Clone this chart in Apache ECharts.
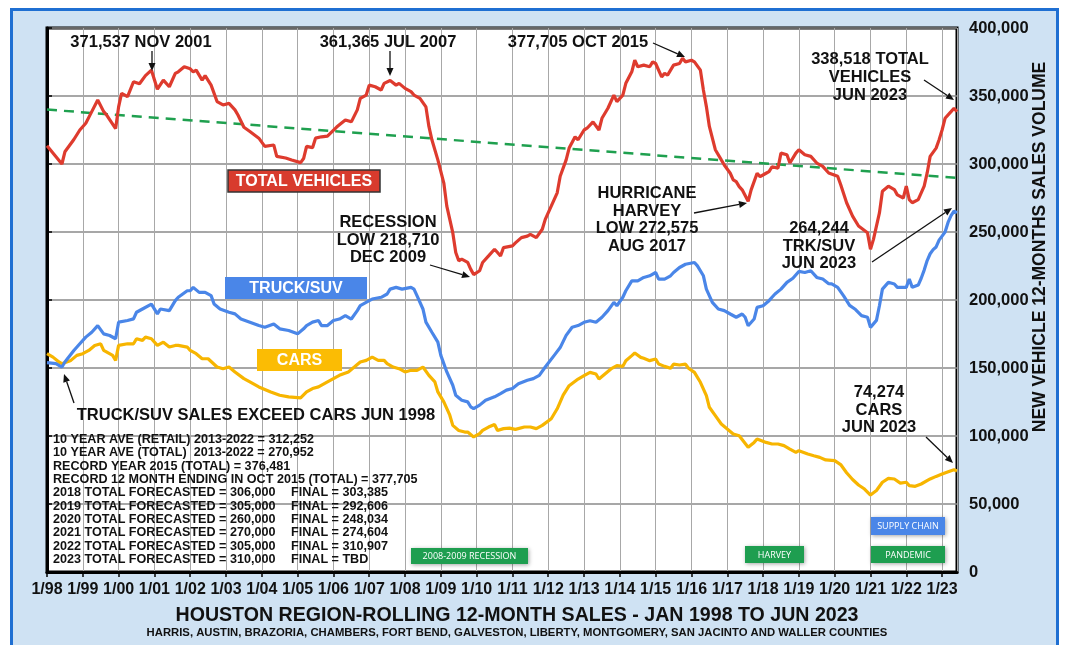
<!DOCTYPE html>
<html><head><meta charset="utf-8">
<script src="https://cdn.jsdelivr.net/npm/echarts/dist/echarts.min.js"></script>
<style>
html,body{margin:0;padding:0;background:#fff;overflow:hidden;}
#bg{position:absolute;left:10px;top:8px;width:1049px;height:660px;background:#cfe2f3;border:3px solid #1f6fd2;box-sizing:border-box;}
#chart{position:absolute;left:0;top:0;width:1065px;height:645px;}
</style></head>
<body><div id="bg"></div><div id="chart"></div>
<script>
// month index: 0 = Jan 1998 ... 305 = Jun 2023
const totalVehicles = [[0,313400],[5,300000],[6,309000],[9,318000],[11,325000],[13,330000],[15,338500],[17,347000],[19,338500],[20,336000],[23,326000],[24,342000],[25,352000],[27,349500],[29,360500],[31,359000],[33,365000],[35,369000],[37,355000],[39,361700],[41,356800],[43,366600],[44,367800],[46,371537],[48,370000],[49,367800],[50,369000],[52,361700],[53,365000],[55,358000],[57,345900],[59,343400],[61,344600],[63,339800],[64,336000],[66,327000],[68,323900],[71,319000],[73,313000],[76,314000],[77,305600],[80,304400],[82,303000],[85,301000],[86,304000],[87,313000],[89,312000],[90,319000],[92,320000],[94,320500],[97,327000],[98,328800],[100,332400],[102,331000],[104,339800],[105,348300],[107,350700],[108,358000],[110,356800],[112,354400],[113,359300],[115,361365],[117,358000],[118,359300],[120,355600],[122,353200],[123,350700],[125,348300],[127,342000],[128,327600],[129,317800],[131,303000],[133,286000],[134,269000],[136,249500],[137,234900],[138,228800],[139,230000],[141,227600],[142,222700],[143,218710],[145,221500],[146,227600],[148,232400],[150,237300],[151,234900],[152,232400],[153,238500],[156,239800],[157,242000],[159,245900],[161,247000],[162,248300],[164,245900],[166,252000],[167,259300],[169,269000],[171,278800],[172,291000],[174,303000],[175,311700],[177,320000],[178,317800],[180,325000],[181,326300],[183,331000],[185,325000],[186,333600],[188,341000],[190,350700],[191,345900],[193,350700],[194,359300],[196,367800],[197,376300],[198,371500],[200,372700],[202,371500],[203,375100],[204,373900],[206,364100],[207,366600],[208,365400],[210,372700],[212,373900],[213,377705],[214,375100],[216,376300],[217,375100],[219,369000],[220,354400],[221,342200],[222,327600],[224,310500],[226,303000],[227,299300],[229,293200],[230,288300],[231,287000],[232,283400],[233,281000],[235,272575],[236,281000],[238,293200],[239,290700],[241,293200],[242,294400],[243,298000],[245,297000],[246,308000],[248,306800],[249,300700],[251,308000],[252,310500],[254,306800],[256,305600],[258,300700],[260,298300],[262,293400],[265,291000],[266,284900],[268,271500],[270,261700],[272,254400],[275,249500],[276,237300],[277,244600],[279,264000],[280,280000],[282,283700],[284,281200],[285,277300],[287,275000],[288,283700],[289,273800],[290,271500],[292,273800],[294,283700],[295,293400],[296,305600],[298,311700],[299,317800],[300,325000],[301,333600],[303,338500],[304,341000],[305,338518]];

const truckSuv = [[0,153900],[3,153200],[5,150700],[6,154400],[9,162900],[11,167800],[13,172700],[15,176300],[17,181200],[19,175100],[21,173900],[23,171500],[24,183700],[27,184900],[29,186100],[30,191000],[32,193400],[35,197000],[37,189800],[38,193400],[41,192200],[43,199500],[44,202000],[47,206800],[48,206800],[49,209300],[51,205600],[53,205600],[55,203200],[56,197000],[58,193400],[61,191000],[63,189800],[65,186000],[68,183700],[71,181200],[73,180000],[76,182400],[78,178800],[81,177600],[84,175100],[86,178800],[87,181200],[89,183700],[91,184900],[92,181200],[94,181200],[96,184900],[98,186000],[100,188500],[102,186000],[104,192200],[105,195900],[108,199500],[109,200700],[112,202000],[114,204400],[115,208000],[117,209300],[119,208000],[122,209300],[123,208000],[124,203200],[126,193400],[127,183700],[129,176300],[131,169000],[132,159300],[134,147100],[136,137300],[137,130000],[139,126300],[141,125100],[142,121500],[143,120200],[145,122700],[147,126300],[150,128800],[152,131200],[154,133700],[156,134900],[158,138500],[161,141000],[163,142200],[165,144600],[167,150700],[170,159300],[172,165000],[174,174000],[176,180000],[178,181200],[180,183600],[182,184800],[184,183600],[186,187300],[188,192200],[190,198300],[191,195800],[193,202000],[194,206800],[196,214100],[198,214100],[200,216600],[202,217800],[204,220200],[205,215400],[207,215400],[209,217800],[210,220200],[212,223900],[214,226300],[217,227600],[218,225100],[220,217800],[221,208000],[223,198300],[225,193400],[227,192200],[229,189700],[231,187300],[233,189700],[234,187300],[235,181100],[237,186000],[238,194600],[240,195800],[242,199500],[243,202000],[244,204400],[246,208000],[248,213000],[250,216000],[252,221000],[254,220200],[256,221500],[258,216600],[260,215400],[262,212000],[263,211800],[265,209300],[267,203000],[269,196000],[271,193000],[273,188500],[275,187300],[276,179900],[278,185000],[279,195800],[280,208000],[282,213000],[284,211800],[285,209300],[288,209300],[289,215400],[290,209300],[292,211000],[293,216000],[294,222000],[295,229000],[296,234000],[297,237000],[298,239000],[299,244000],[300,247000],[301,250000],[302,257000],[303,262000],[304,265400],[305,264244]];

const cars = [[0,160500],[2,158000],[4,154400],[5,153200],[8,155600],[10,159300],[12,160500],[14,162900],[16,166600],[18,167800],[19,162900],[22,159300],[23,155600],[24,166600],[27,167800],[29,167800],[30,171500],[32,170300],[33,172700],[35,171500],[37,166600],[39,169000],[41,165400],[43,166600],[44,166600],[47,165400],[48,162900],[50,160500],[52,156800],[54,156800],[57,150700],[59,149500],[61,150700],[63,147100],[66,142200],[68,139800],[71,136100],[75,132400],[78,130000],[81,128800],[85,128000],[87,132400],[89,134900],[91,136100],[94,139800],[96,142200],[98,144600],[101,147100],[103,150700],[105,154400],[107,155600],[109,158000],[111,155600],[113,155600],[114,153200],[116,150700],[118,149500],[120,147100],[122,148300],[124,148300],[126,150700],[128,144600],[130,139800],[131,132400],[133,125100],[135,115300],[136,107800],[138,104100],[140,102900],[141,102900],[143,99300],[145,101700],[146,104100],[148,106600],[150,108500],[151,104100],[153,105400],[155,105800],[157,104900],[160,106600],[162,106600],[164,105400],[166,107800],[169,112700],[171,120000],[173,130000],[175,137000],[178,141900],[180,144400],[182,146800],[184,145600],[185,141900],[187,145600],[189,149300],[191,151700],[193,151200],[194,155400],[196,159100],[197,161000],[199,157800],[200,157100],[202,155400],[204,156600],[205,152900],[207,151200],[209,149800],[210,152900],[212,152200],[214,152900],[215,149800],[217,146800],[219,139500],[221,129700],[222,121100],[224,115000],[226,108800],[228,105100],[230,101500],[232,100200],[235,91700],[237,95300],[238,97800],[241,95300],[243,94100],[245,94100],[247,92900],[249,90400],[251,88000],[252,89200],[255,86800],[257,85500],[259,84300],[261,82400],[264,81900],[266,79000],[268,73000],[270,68000],[272,64000],[274,61000],[276,56600],[278,59900],[280,66000],[282,68900],[284,68400],[286,65400],[288,66000],[289,63500],[291,63000],[293,64700],[296,68400],[298,70300],[300,72000],[303,74500],[304,75200],[305,74274]];

const trendLine = [[0,340000],[305,289800]];

const notesLeft = ['10 YEAR AVE (RETAIL) 2013-2022 = 312,252','10 YEAR AVE (TOTAL)  2013-2022 = 270,952','RECORD YEAR 2015 (TOTAL) = 376,481','RECORD 12 MONTH ENDING IN OCT 2015 (TOTAL) = 377,705','2018 TOTAL FORECASTED = 306,000','2019 TOTAL FORECASTED = 305,000','2020 TOTAL FORECASTED = 260,000','2021 TOTAL FORECASTED = 270,000','2022 TOTAL FORECASTED = 305,000','2023 TOTAL FORECASTED = 310,000'];
const notesFinal = ['','','','','FINAL = 303,385','FINAL = 292,606','FINAL = 248,034','FINAL = 274,604','FINAL = 310,907','FINAL = TBD'];

const F = '"Liberation Sans", Arial, Helvetica, sans-serif';
const chart = echarts.init(document.getElementById('chart'), null, {renderer:'canvas'});

function txt(x, y, text, size, opts) {
  opts = opts || {};
  return {type:'text', z:100, x:x, y:y, rotation: opts.rotation || 0,
    style:{text:text, fill: opts.color || '#111', font: (opts.weight||'bold') + ' ' + size + 'px ' + (opts.family||F),
      textAlign: opts.align || 'center', textVerticalAlign: opts.valign || 'middle', lineHeight: opts.lh || size*1.15}};
}
function arrow(x1, y1, x2, y2) {
  const a = Math.atan2(y2-y1, x2-x1), L = 8, W = 3.5;
  const bx = x2 - L*Math.cos(a), by = y2 - L*Math.sin(a);
  const px = -Math.sin(a)*W, py = Math.cos(a)*W;
  return [
    {type:'line', z:100, shape:{x1:x1,y1:y1,x2:bx,y2:by}, style:{stroke:'#111', lineWidth:1.3}},
    {type:'polygon', z:100, shape:{points:[[x2,y2],[bx+px,by+py],[bx-px,by-py]]}, style:{fill:'#111'}}
  ];
}
function box(x, y, w, h, fill, label, size, opts) {
  opts = opts || {};
  return [
    {type:'rect', z:99, shape:{x:x,y:y,width:w,height:h}, style:{fill:fill, stroke: opts.stroke || null, lineWidth: opts.lw || 0,
      shadowBlur: opts.shadow ? 4 : 0, shadowColor:'rgba(0,0,0,0.35)', shadowOffsetX: opts.shadow?1:0, shadowOffsetY: opts.shadow?1:0}},
    txt(x + w/2, y + h/2 + 0.5, label, size, {color:'#fff', weight: opts.weight || 'bold', family: opts.family})
  ];
}

const A = 16.5;
const g = [];
// annotations
g.push(txt(141, 42, '371,537 NOV 2001', A));
g.push(...arrow(152, 51, 152, 71));
g.push(txt(388, 42, '361,365 JUL 2007', A));
g.push(...arrow(390, 51, 390, 76));
g.push(txt(578, 42, '377,705 OCT 2015', A));
g.push(...arrow(653, 43, 685, 57));
g.push(txt(870, 77, '338,518 TOTAL\nVEHICLES\nJUN 2023', A, {lh:18}));
g.push(...arrow(924, 80, 954, 100));
g.push(txt(388, 240, 'RECESSION\nLOW 218,710\nDEC 2009', A, {lh:17.5}));
g.push(...arrow(430, 265, 470, 277));
g.push(txt(647, 220, 'HURRICANE\nHARVEY\nLOW 272,575\nAUG 2017', A, {lh:17.5}));
g.push(...arrow(694, 213, 747, 203));
g.push(txt(819, 246, '264,244\nTRK/SUV\nJUN 2023', A, {lh:17.5}));
g.push(...arrow(872, 262, 952, 208));
g.push(txt(879, 410, '74,274\nCARS\nJUN 2023', A, {lh:17.5}));
g.push(...arrow(926, 437, 953, 463));
g.push(txt(256, 415, 'TRUCK/SUV SALES EXCEED CARS JUN 1998', A));
g.push(...arrow(74, 403, 64, 374));
// series label boxes
g.push(...box(228, 170, 152, 22, '#d83b2d', 'TOTAL VEHICLES', 16, {stroke:'#333', lw:1.5}));
g.push(...box(225, 277, 142, 22, '#4a86e8', 'TRUCK/SUV', 16));
g.push(...box(257, 349, 85, 22, '#fbbc04', 'CARS', 16));
// event boxes
const EF = '"Open Sans", sans-serif';
g.push(...box(411, 548, 117, 16, '#1e9e50', '2008-2009 RECESSION', 9, {shadow:true, weight:'normal', family:EF}));
g.push(...box(745, 546, 59, 17, '#1e9e50', 'HARVEY', 9, {shadow:true, weight:'normal', family:EF}));
g.push(...box(871, 546, 74, 17, '#1e9e50', 'PANDEMIC', 9, {shadow:true, weight:'normal', family:EF}));
g.push(...box(871, 517, 74, 18, '#4a86e8', 'SUPPLY CHAIN', 9, {shadow:true, weight:'normal', family:EF}));
// notes block
notesLeft.forEach((s, i) => {
  const y = 439.5 + i*13.35;
  g.push(txt(53, y, s, 12.6, {align:'left'}));
  if (notesFinal[i]) g.push(txt(291, y, notesFinal[i], 12.6, {align:'left'}));
});
// titles
g.push(txt(517, 616, 'HOUSTON REGION-ROLLING 12-MONTH SALES - JAN 1998 TO JUN 2023', 19.6));
g.push(txt(517, 633, 'HARRIS, AUSTIN, BRAZORIA, CHAMBERS, FORT BEND, GALVESTON, LIBERTY, MONTGOMERY, SAN JACINTO AND WALLER COUNTIES', 11.3));
g.push(txt(1040, 247, 'NEW VEHICLE 12-MONTHS SALES VOLUME', 17.5, {rotation: Math.PI/2}));

const lineSeries = (name, data, color, extra) => Object.assign({
  name:name, type:'line', data:data, showSymbol:false, symbol:'none', smooth:false,
  lineStyle:{color:color, width:3.2}, itemStyle:{color:color}, z:3
}, extra || {});

chart.setOption({
  animation:false,
  textStyle:{fontFamily:F},
  grid:{left:47, right:108, top:28, bottom:73, show:true, backgroundColor:'#fff', borderColor:'#000', borderWidth:3},
  xAxis:{type:'value', min:0, max:305, interval:12,
    axisLine:{show:true, onZero:false, lineStyle:{color:'#000', width:3}},
    axisTick:{show:true, length:5, lineStyle:{color:'#000', width:1.5}},
    axisLabel:{showMaxLabel:false, color:'#111', fontWeight:'bold', fontSize:16, margin:10, fontFamily:F,
      formatter: v => { const y = (98 + Math.round(v/12)) % 100; return '1/' + (y < 10 ? '0' : '') + y; }},
    splitLine:{show:true, lineStyle:{color:'#a8a8a8', width:1}}},
  yAxis:{type:'value', position:'right', min:0, max:400000, interval:50000,
    axisLine:{show:true, lineStyle:{color:'#000', width:3}},
    axisTick:{show:true, length:5, lineStyle:{color:'#000', width:1.5}},
    axisLabel:{color:'#111', fontWeight:'bold', fontSize:16.5, margin:12, fontFamily:F,
      formatter: v => v.toLocaleString('en-US')},
    splitLine:{show:true, lineStyle:{color:'#8a8a8a', width:1.5}}},
  series:[
    lineSeries('Trend', trendLine, '#1fa04f', {lineStyle:{color:'#1fa04f', width:2.5, type:[10,7]}, z:2}),
    lineSeries('Cars', cars, '#f7b500'),
    lineSeries('Truck/SUV', truckSuv, '#4a86e8'),
    lineSeries('Total Vehicles', totalVehicles, '#de3b2e')
  ],
  graphic:{elements:g}
});
</script>
</body></html>
